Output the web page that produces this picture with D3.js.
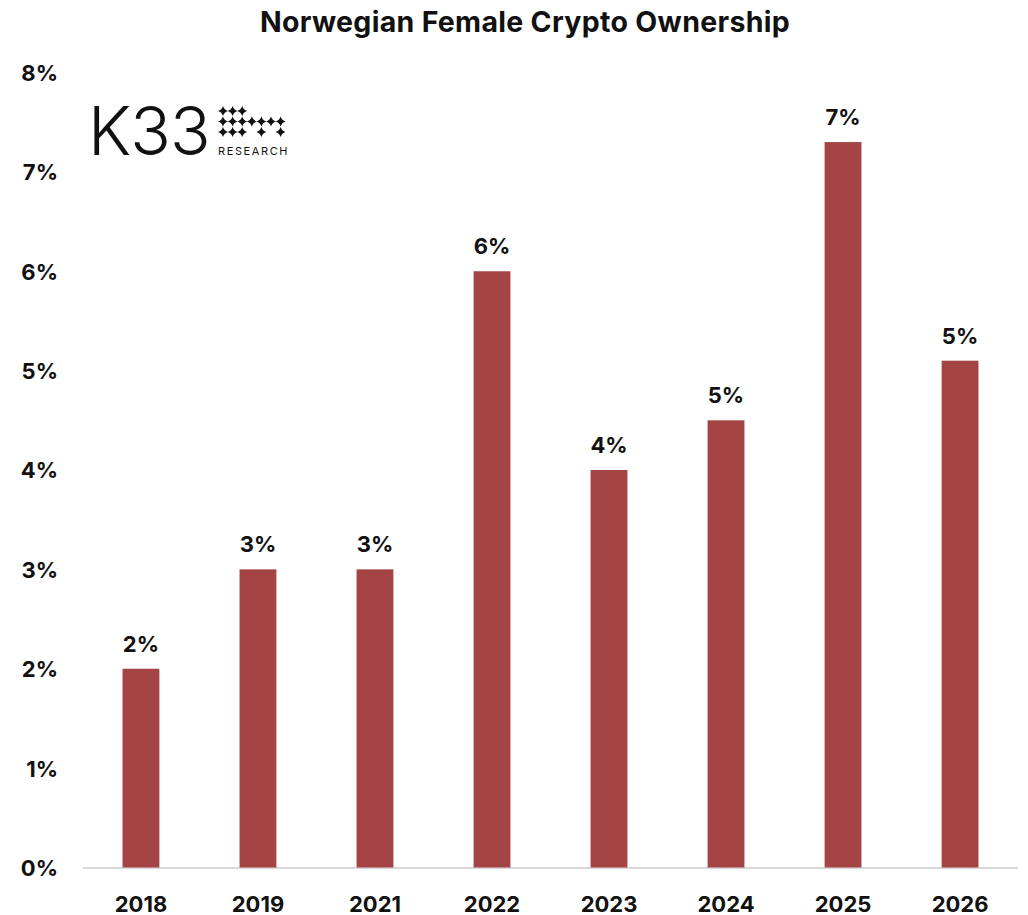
<!DOCTYPE html>
<html>
<head>
<meta charset="utf-8">
<script src="https://cdn.jsdelivr.net/npm/d3@7"></script>
<style>
  html, body { margin: 0; padding: 0; background: #fff; }
  svg { display: block; font-family: Inter, "Noto Sans", sans-serif; }
</style>
</head>
<body>
<svg id="chart" width="1028" height="915"></svg>
<script>
// Share of Norwegian women owning crypto, by survey year (percent)
const years = ["2018", "2019", "2021", "2022", "2023", "2024", "2025", "2026"];
const ownership = [2.0, 3.0, 3.0, 6.0, 4.0, 4.5, 7.3, 5.1];
const yTicks = [0, 1, 2, 3, 4, 5, 6, 7, 8];

const svg = d3.select("#chart");
const barColor = "#A54444";

const x = d3.scaleBand()
  .domain(years)
  .range([82.5, 1018.5])
  .paddingInner(0.685)
  .paddingOuter(0.342);

const y = d3.scaleLinear()
  .domain([0, 8])
  .range([867.5, 72.5]);

// Title
svg.append("text")
  .attr("x", 525)
  .attr("y", 32)
  .attr("text-anchor", "middle")
  .attr("font-size", 28.5)
  .attr("font-weight", 700)
  .attr("letter-spacing", 0.3)
  .attr("fill", "#111")
  .text("Norwegian Female Crypto Ownership");

// Y axis labels
const yAxis = d3.axisLeft(y)
  .tickValues(yTicks)
  .tickFormat(d => d + "%")
  .tickSize(0)
  .tickPadding(0);

svg.append("g")
  .attr("transform", "translate(58,0)")
  .call(yAxis)
  .call(g => g.select(".domain").remove())
  .call(g => g.selectAll("text")
    .attr("font-family", "Inter, 'Noto Sans', sans-serif")
    .attr("font-size", 22)
    .attr("font-weight", 700)
    .attr("fill", "#111")
    .attr("dy", "0.36em"));

// Baseline
svg.append("line")
  .attr("x1", 83).attr("x2", 1018)
  .attr("y1", y(0) + 0.5).attr("y2", y(0) + 0.5)
  .attr("stroke", "#d9d9d9")
  .attr("stroke-width", 2);

// X axis labels
const xAxis = d3.axisBottom(x).tickSize(0).tickPadding(0);
svg.append("g")
  .attr("transform", `translate(0,${y(0)})`)
  .call(xAxis)
  .call(g => g.select(".domain").remove())
  .call(g => g.selectAll("text")
    .attr("font-family", "Inter, 'Noto Sans', sans-serif")
    .attr("font-size", 22)
    .attr("font-weight", 700)
    .attr("fill", "#111")
    .attr("dy", null)
    .attr("y", 44));

const rows = years.map((yr, i) => ({ yr, v: ownership[i] }));

// Bars
svg.append("g")
  .selectAll("rect")
  .data(rows)
  .join("rect")
  .attr("x", d => x(d.yr))
  .attr("width", x.bandwidth())
  .attr("y", d => y(d.v))
  .attr("height", d => y(0) - y(d.v))
  .attr("fill", barColor);

// Value labels
svg.append("g")
  .selectAll("text")
  .data(rows)
  .join("text")
  .attr("x", d => x(d.yr) + x.bandwidth() / 2)
  .attr("y", d => y(d.v) - 17)
  .attr("text-anchor", "middle")
  .attr("font-size", 22)
  .attr("font-weight", 700)
  .attr("fill", "#111")
  .text(d => Math.round(d.v) + "%");

// K33 Research logo
const logo = svg.append("g").attr("transform", "translate(88,155)");
logo.append("text")
  .attr("x", 0).attr("y", 0)
  .attr("font-size", 67)
  .attr("font-weight", 300)
  .attr("fill", "#111")
  .attr("letter-spacing", -1)
  .text("K33");

const star = "M0,-5 Q1.2,-1.2 5,0 Q1.2,1.2 0,5 Q-1.2,1.2 -5,0 Q-1.2,-1.2 0,-5Z";
const starRows = [
  [0, 1, 2],
  [0, 1, 2, 3, 4, 5, 6],
  [0, 1, 2, 4, 6]
];
starRows.forEach((cols, r) => {
  cols.forEach(c => {
    logo.append("path")
      .attr("d", star)
      .attr("transform", `translate(${135 + c * 9.6},${-44 + r * 10.5})`)
      .attr("fill", "#111");
  });
});
logo.append("text")
  .attr("x", 130).attr("y", 0)
  .attr("font-size", 11)
  .attr("font-weight", 400)
  .attr("letter-spacing", 1.6)
  .attr("fill", "#111")
  .text("RESEARCH");
</script>
</body>
</html>
